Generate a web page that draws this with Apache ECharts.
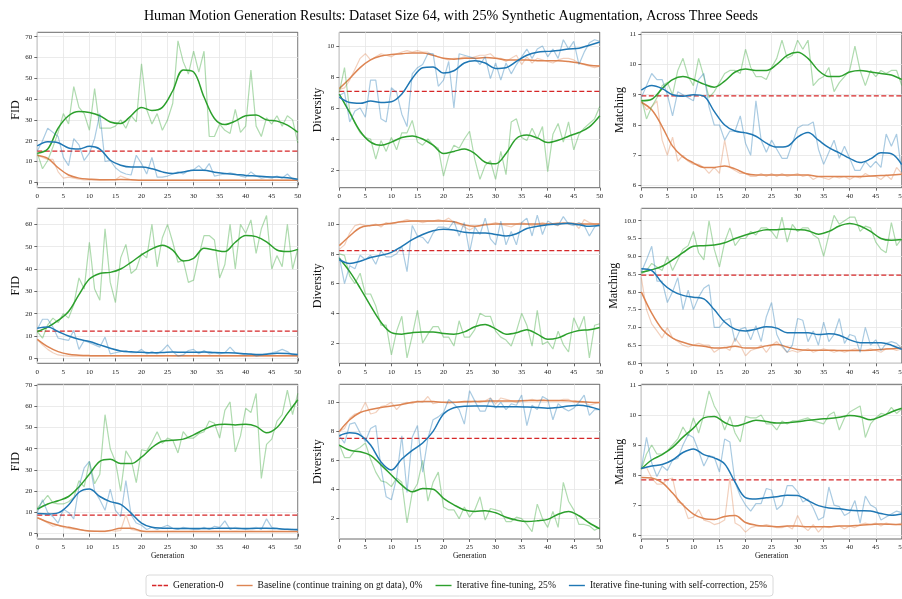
<!DOCTYPE html>
<html>
<head>
<meta charset="utf-8">
<script src="https://cdn.jsdelivr.net/npm/echarts@6/dist/echarts.min.js"></script>
<style>
  html, body { margin: 0; padding: 0; background: #fff; }
  #chart { width: 902px; height: 599px; }
</style>
</head>
<body>
<div id="chart"></div>
<script>
// generations on the x axis (raw points) and the points of the smoothed curves
const gens = [0,1,2,3,4,5,6,7,8,9,10,11,12,13,14,15,16,17,18,19,20,21,22,23,24,25,26,27,28,29,30,31,32,33,34,35,36,37,38,39,40,41,42,43,44,45,46,47,48,49,50];
const smGens = [0,2,4,6,8,10,12,14,16,18,20,22,24,26,28,30,32,34,36,38,40,42,44,46,48,50];
const xTicks = [0,5,10,15,20,25,30,35,40,45,50];

// y tick labels per row / metric
const fidTicks1 = [0,10,20,30,40,50,60,70];
const fidTicks2 = [0,10,20,30,40,50,60];
const fidTicks3 = [0,10,20,30,40,50,60,70];
const divTicks = [2,4,6,8,10];
const matTicks1 = [6,7,8,9,10,11];
const matTicks2 = [6.0,6.5,7.0,7.5,8.0,8.5,9.0,9.5,10.0];
const matTicks3 = [6,7,8,9,10,11];

// Generation-0 reference level, panels in reading order
const gen0 = [15, 7.07, 8.96, 12.2, 8.22, 8.47, 8.75, 7.52, 7.84];

// ---- seed 1 ----
const fidBaseRaw1 = [13,12,11,11,5,2,2.5,2,1.5,1.2, 1.1,1,1,1,1.1,1.2,3,2,1.2,1, 1,1,1,0.9,1,0.9,1,1,0.9,1, 1,0.9,1,1,0.9,1,0.9,1,1,0.9, 1,0.9,1,1,0.9,1,1,0.9,1,0.9,1];
const fidBaseSm1 = [13,11.5,7,3.5,2,1.5,1.2,1.2,1.3,1.2,1,1,1,0.95,0.95,0.95,0.95,0.95,0.95,0.95,0.95,0.95,0.95,0.95,0.95,0.95];
const fidIterRaw1 = [14,6.5,10.5,17,24,33,28,46,36,33, 25,45,26,26,26,27,30,26,32,29, 57,35,28,33,25,30,38,68,58,52, 63,53,63,22,22,28,25,23.5,35,24, 27,54,27,22,31,28,32,27,32,30,19];
const fidIterSm1 = [14,16,26,32,34,33.5,32,29,28.3,32,36,34.5,36,44,54,53,41,30.7,27.8,29.4,32,32.3,30,29.4,27.5,24];
const fidSelfRaw1 = [15,20,26,24,22,12,8,21,18,10.5, 14,21,33,10,10.5,7,5,4,3.5,13, 9,4,12,2.5,2.5,3,4,5,4,5.5, 6,8,5.5,9,3,3.5,4,4.5,4,3, 2.5,5,3,2,2.5,2,3,2,4,1.5,1];
const fidSelfSm1 = [17.5,19.5,19,16.5,16,17.3,16,10.6,8.2,7.3,7.3,6.5,5,4.2,5,5.8,5.8,4.8,4.2,3.8,3.3,3,2.7,2.5,2.2,1.5];

const divBaseRaw1 = [7.2,7.3,7.8,8.5,9.2,9.5,9.1,9.3,9.5,9.4, 9.3,9.5,9.6,9.7,9.6,9.7,9.6,9.6,9.4,9.3, 9.2,9.1,9.2,9.2,9.3,9.2,9.3,9.4,9.4,9.5, 9.2,9.2,9.0,9.2,9.4,8.8,9.3,8.9,9.2,9.1, 9.0,8.9,9.1,9.2,9.2,9.1,8.9,8.8,8.7,8.6,8.7];
const divBaseSm1 = [7.25,7.9,8.6,9.1,9.35,9.45,9.5,9.55,9.55,9.4,9.2,9.15,9.2,9.2,9.25,9.2,9.1,9.1,9.1,9.05,9.05,9.05,9.0,8.9,8.75,8.7];
const divIterRaw1 = [7.0,8.6,5.8,5.0,4.4,4.1,4.0,2.7,3.9,3.2, 4.1,3.3,4.4,4.4,5.2,3.8,3.6,4.0,3.6,3.4, 1.6,2.9,3.6,3.4,4.0,4.5,2.7,1.4,2.3,2.6, 1.4,3.2,1.7,5.1,5.3,4.1,3.9,4.7,4.0,4.8, 1.9,4.3,5.0,3.8,5.1,3.3,4.3,4.7,5.0,5.3,6.1];
const divIterSm1 = [6.9,5.7,4.5,3.8,3.6,3.8,4.1,4.2,4.0,3.6,3.06,3.2,3.35,3.06,2.5,2.4,3.06,4.03,4.25,4.07,3.77,3.92,4.18,4.42,4.78,5.5];
const divSelfRaw1 = [6.8,7.0,5.1,5.8,6.0,5.4,7.8,7.8,5.3,5.1, 7.3,7.0,5.6,4.8,8.2,8.6,8.8,9.5,9.5,7.4, 7.8,9.0,6.0,9.5,9.4,9.3,9.2,8.8,9.3,7.9, 8.9,7.8,8.9,8.2,8.8,9.3,9.8,9.2,9.8,10.0, 9.3,9.8,9.2,10.4,9.8,10.3,8.8,9.6,10.2,10.4,10.3];
const divSelfSm1 = [6.7,6.35,6.3,6.45,6.35,6.4,6.9,7.9,8.6,8.65,8.25,8.4,8.9,9.05,8.9,8.55,8.6,9.0,9.4,9.6,9.65,9.7,9.8,9.85,10.05,10.25];

const matBaseRaw1 = [8.8,8.5,8.6,8.8,7.5,7.0,7.6,6.8,7.0,6.8, 6.7,6.7,6.6,6.4,6.6,6.4,7.5,6.6,6.5,6.4, 6.4,6.3,6.3,6.4,6.3,6.4,6.3,6.4,6.3,6.35, 6.4,6.3,6.35,6.2,6.3,6.25,6.2,6.3,6.25,6.3, 6.2,6.3,6.25,6.4,6.3,6.3,6.2,6.35,6.2,6.6,6.4];
const matBaseSm1 = [8.75,8.5,7.95,7.3,6.95,6.75,6.6,6.6,6.65,6.55,6.4,6.35,6.35,6.35,6.35,6.35,6.35,6.3,6.3,6.3,6.3,6.3,6.32,6.33,6.35,6.37];
const matIterRaw1 = [8.9,8.2,8.6,8.9,9.3,9.4,9.0,9.8,10.2,9.6, 9.3,10.2,9.6,8.9,9.1,9.4,9.7,9.8,9.8,9.7, 10.5,9.9,9.6,9.6,9.5,9.9,10.2,10.8,10.2,10.3, 10.8,10.5,10.8,9.3,9.5,9.6,9.9,9.1,9.4,9.6, 9.8,10.6,9.8,9.3,9.8,9.6,9.8,9.7,9.8,9.8,9.3];
const matIterSm1 = [8.8,8.85,9.2,9.5,9.6,9.5,9.35,9.25,9.45,9.75,9.85,9.8,9.8,10.0,10.3,10.4,10.2,9.8,9.6,9.6,9.75,9.8,9.75,9.7,9.65,9.5];
const matSelfRaw1 = [8.9,9.3,9.7,9.5,9.5,9.0,8.3,9.1,9.0,8.9, 8.8,9.5,9.7,8.6,8.0,8.0,7.5,7.8,7.8,8.3, 7.4,7.0,8.8,7.5,7.1,7.5,7.2,6.9,6.9,7.4, 7.9,8.0,8.0,8.1,7.2,6.7,7.1,7.5,6.9,7.3, 6.9,6.5,6.5,6.8,6.6,6.8,6.6,7.7,7.3,7.7,6.45];
const matSelfSm1 = [9.15,9.3,9.2,9.0,8.95,9.0,8.95,8.45,8.0,7.8,7.74,7.63,7.4,7.27,7.3,7.6,7.75,7.5,7.25,7.08,6.9,6.76,6.88,7.08,7.05,6.69];

// ---- seed 2 ----
const fidBaseRaw2 = [8.5,6,4,2.5,1.5,1.2,1,1,1.1,1, 1,1.1,1,1,1.2,1,1,1.1,1,1, 1,1.1,1,1,1,1.2,1,1,1,1.1, 1,1,1,1.1,1,1,1,1.1,1,1, 1,1,1.1,1,1,1,1.1,1,1,1,1];
const fidBaseSm2 = [8.5,5.2,3,1.8,1.4,1.2,1.1,1.1,1.1,1.1,1.1,1.1,1.1,1.1,1.1,1.1,1.1,1.1,1.1,1.1,1.1,1.1,1.1,1.1,1.1,1.1];
const fidIterRaw2 = [12,9,15,18,16,20,18,24,36,31, 52,31,26,58,34,25,45,51,38,40, 47,45,60,41,54,60,52,43,44,34, 35,46,55,55,53,36,42,60,40,60, 56,62,47,58,64,40,46,41,60,40,49];
const fidIterSm2 = [12,14,17,21,28.5,35.5,38,38.5,40,43,46.3,49,50.7,48.5,43.6,44.8,49.3,48.5,47.8,52,55,54.5,52.2,48.5,47.8,48.8];
const fidSelfRaw2 = [13,17.5,17.5,14,9,8.5,8,12.5,4,8, 7,6,5,9.5,2,2.5,3,3.5,2.5,2.5, 4,2,3,2,3.5,6,3,1,1.5,3.5, 4,2,3.5,2,2.5,2,2.5,5,2.5,2, 1.5,2,1,1.5,2,2.5,3,4,3,1.5,1.5];
const fidSelfSm2 = [13.5,14,12,10,8.5,7.5,6,4.5,3.3,2.9,2.7,2.5,2.6,2.8,2.7,2.7,2.8,2.6,2.5,2.4,2.0,1.7,1.8,2.3,2.2,1.7];

const divBaseRaw2 = [8.3,8.6,9.4,9.9,10.0,9.9,9.9,10.0,9.8,10.1, 10.0,10.1,10.2,10.3,10.2,10.2,10.1,10.2,10.2,10.3, 10.2,10.4,10.1,10.0,9.8,9.6,9.8,9.9,10.0,10.0, 10.1,10.0,9.9,9.8,10.0,10.1,10.0,9.9,10.0,10.1, 10.0,10.0,9.9,10.1,10.0,10.1,9.7,10.3,10.1,10.0,10.0];
const divBaseSm2 = [8.55,9.2,9.75,9.9,9.95,10.05,10.15,10.2,10.2,10.2,10.2,10.15,9.95,9.85,9.95,10.0,10.0,10.0,10.0,10.0,10.0,10.05,10.05,10.0,10.0,10.0];
const divIterRaw2 = [8.0,7.9,6.5,6.0,6.7,5.3,5.3,4.5,3.2,3.2, 1.2,2.8,3.8,1.0,2.5,4.2,2.0,2.6,3.1,3.1, 2.4,2.4,1.8,3.5,2.4,2.4,2.9,4.0,3.8,3.8, 2.8,2.4,2.2,1.8,2.8,4.0,3.2,1.8,4.2,1.9, 2.1,1.6,2.8,1.9,1.4,3.7,2.9,3.8,1.0,3.2,3.3];
const divIterSm2 = [7.7,6.8,5.7,4.5,3.4,2.7,2.6,2.7,2.75,2.75,2.65,2.6,2.75,3.1,3.25,2.95,2.6,2.7,2.9,2.6,2.25,2.35,2.65,2.85,2.9,3.05];
const divSelfRaw2 = [7.8,6.0,7.2,7.0,7.9,7.6,7.9,7.3,8.2,7.8, 7.8,8.0,8.5,6.8,9.9,9.2,9.1,8.7,9.4,9.8, 9.8,9.7,10.2,9.2,10.1,8.1,9.8,9.3,10.4,9.0, 8.6,10.2,8.6,9.5,8.6,10.1,10.4,9.2,10.6,9.3, 10.2,10.0,9.9,10.5,10.0,9.9,10.1,9.9,9.2,9.8,10.0];
const divSelfSm2 = [7.6,7.35,7.5,7.75,7.9,8.1,8.5,8.95,9.3,9.55,9.65,9.6,9.45,9.4,9.4,9.3,9.2,9.35,9.7,9.85,9.95,10.0,10.05,9.95,9.85,9.9];

const matBaseRaw2 = [8.4,7.5,7.1,6.9,6.7,7.0,6.7,6.6,6.5,6.45, 6.5,6.55,6.5,6.5,6.3,6.4,6.45,6.35,6.7,6.5, 6.2,6.35,6.4,6.5,6.3,6.5,6.6,6.45,6.3,6.35, 6.3,6.35,6.4,6.3,6.35,6.4,6.35,6.3,6.35,6.3, 6.35,6.4,6.35,6.35,6.4,6.35,6.3,6.4,6.4,6.35,6.4];
const matBaseSm2 = [8.0,7.4,6.95,6.7,6.58,6.5,6.47,6.42,6.43,6.47,6.42,6.42,6.48,6.52,6.45,6.38,6.36,6.36,6.36,6.35,6.35,6.35,6.36,6.38,6.4,6.42];
const matIterRaw2 = [8.5,8.6,8.8,8.7,8.6,9.0,8.6,8.9,9.2,9.3, 9.7,9.1,8.9,10.0,9.2,8.7,9.4,9.8,9.3,9.5, 9.5,9.7,9.6,9.8,9.8,9.7,9.5,10.1,9.4,9.9, 9.7,9.8,9.8,9.6,9.5,9.0,9.6,10.15,9.9,10.0, 10.1,10.1,9.7,9.85,9.8,9.4,9.2,9.1,9.95,9.3,9.5];
const matIterSm2 = [8.55,8.62,8.72,8.9,9.1,9.28,9.3,9.32,9.38,9.5,9.6,9.68,9.75,9.75,9.77,9.75,9.72,9.62,9.7,9.85,9.92,9.85,9.7,9.5,9.45,9.47];
const matSelfRaw2 = [8.55,8.9,9.28,8.3,8.3,7.7,8.0,8.4,7.5,8.05, 7.5,7.85,8.1,8.2,7.0,7.0,7.2,7.25,6.6,6.95, 7.0,6.65,7.05,6.6,7.3,7.7,6.8,6.5,6.3,6.5, 7.25,7.2,6.6,6.9,6.5,7.15,6.6,6.8,7.25,6.55, 6.8,6.75,6.3,7.0,6.5,6.65,6.35,6.55,6.6,6.55,6.4];
const matSelfSm2 = [8.65,8.6,8.25,8.02,7.9,7.85,7.8,7.5,7.15,6.95,6.9,6.95,7.02,6.98,6.85,6.85,6.85,6.8,6.82,6.78,6.65,6.57,6.57,6.57,6.5,6.38];

// ---- seed 3 ----
const fidBaseRaw3 = [7.5,6.5,5,3.5,4,3,2.5,2,2,1.5, 1.2,1.2,1,1,1.5,1.2,1.5,9,2,1.5, 1,1,1,1.1,1,1,1.1,1,1,1, 1.1,1,1,1,1.1,1,1,1,1.1,1, 1,1.1,1,1,1,1.1,1,1,1,1.1,1];
const fidBaseSm3 = [7.5,5.5,4,3,2,1.3,1.1,1.5,2.6,2.6,1.3,1.0,1.0,1.0,1.0,1.0,1.0,1.0,1.0,1.0,1.0,1.0,1.0,1.0,1.0,1.0];
const fidIterRaw3 = [12,15,18,14.5,14,14,15,17,25,22, 34,23.5,28,56,40,34,20,39,35,24, 39.5,39,43,48,42.5,45,44,38,48,45, 45,47,48,53,52,45,58,62,38.5,46, 59,57,66,26,42,44.5,53,56,67.5,56,66];
const fidIterSm3 = [11.5,14,15.5,17.5,22,28,34,35,33,33,36,40.5,43.5,44,44.5,46.5,49,51,51.5,51.2,51.5,50.5,47.5,50,56.5,63];
const fidSelfRaw3 = [10,16,10,8,5,11.5,10,7,22,31, 34,20,16,11,21,11,8,25,9,5, 4,2,3,2,3,4,2.5,2,3,2.5, 2,2,3,2,3.5,3,6,2,3,2.5, 2,2.5,3,2,7,3,2.5,2,2,2,1.5];
const fidSelfSm3 = [9.5,9.3,9.8,13.5,19.5,21,17.5,15.1,13.8,9.7,5,3,2.6,2.5,2.4,2.4,2.4,2.5,2.6,2.5,2.4,2.5,2.6,2.4,2.1,2.0];

const divBaseRaw3 = [8.0,8.2,8.9,9.2,9.3,10.0,9.2,9.3,9.7,9.8, 10.0,9.5,9.9,10.0,9.9,10.1,10.0,10.4,9.9,10.0, 10.0,9.9,10.0,10.0,10.0,10.0,10.1,10.0,10.1,10.3, 9.9,10.3,10.2,10.1,10.0,10.1,10.1,10.2,10.1,10.2, 10.1,10.1,10.1,10.2,10.2,10.0,10.0,10.0,9.8,9.9,10.0];
const divBaseSm3 = [8.0,8.8,9.3,9.5,9.65,9.75,9.85,10.0,10.05,10.05,10.0,10.0,10.05,10.05,10.08,10.1,10.1,10.1,10.12,10.12,10.12,10.12,10.1,10.05,10.0,9.98];
const divIterRaw3 = [7.1,6.2,6.2,6.7,6.9,7.2,6.1,5.2,4.6,4.5, 4.2,4.8,4.5,1.7,3.8,4.4,6.0,3.2,4.5,5.2, 2.8,2.6,2.6,2.0,2.8,2.1,2.6,3.5,1.9,2.7, 2.6,2.5,1.8,1.8,2.1,2.0,1.6,1.1,3.0,2.0, 1.4,2.5,1.4,4.5,3.2,2.6,1.6,1.6,1.5,1.2,1.4];
const divIterSm3 = [7.05,6.7,6.6,6.35,5.7,5.0,4.3,3.85,4.07,4.02,3.4,2.95,2.6,2.5,2.55,2.4,2.1,1.9,1.8,1.85,1.95,2.3,2.5,2.2,1.7,1.3];
const divSelfRaw3 = [7.7,7.2,8.5,8.6,7.9,7.3,8.2,8.4,5.5,3.5, 3.3,4.8,7.7,3.8,7.6,8.4,5.2,7.5,8.8,9.0, 9.3,10.2,9.9,9.5,8.5,10.8,10.1,9.4,9.4,10.3, 9.6,10.0,9.5,9.9,9.8,10.5,8.4,9.8,9.5,10.4, 10.2,8.8,9.9,9.6,9.4,9.6,10.0,10.5,9.1,9.5,9.5];
const divSelfSm3 = [7.7,7.9,7.75,7.06,5.9,5.35,6.1,6.7,7.2,8.0,9.2,9.63,9.73,9.75,9.75,9.7,9.7,9.7,9.68,9.65,9.6,9.65,9.75,9.8,9.7,9.5];

const matBaseRaw3 = [8.2,8.25,7.9,7.7,7.7,7.85,7.9,7.1,7.05,6.55, 6.6,6.85,6.5,6.45,6.35,6.4,6.5,7.9,6.4,6.3, 6.1,6.25,6.3,6.3,6.35,6.3,6.25,6.25,6.3,6.2, 6.65,6.3,6.15,6.35,6.1,6.3,6.25,6.3,6.3,6.2, 6.3,6.25,6.35,6.4,6.35,6.4,6.3,6.4,6.35,6.35,6.4];
const matBaseSm3 = [7.92,7.9,7.75,7.4,7.0,6.7,6.55,6.52,6.62,6.65,6.42,6.33,6.3,6.28,6.3,6.3,6.28,6.28,6.28,6.3,6.3,6.33,6.35,6.37,6.36,6.35];
const matIterRaw3 = [8.2,8.7,9.0,8.7,8.7,8.8,9.0,9.2,9.6,9.3, 9.9,9.4,10.0,10.8,10.3,10.0,9.5,9.95,9.4,9.1, 9.95,9.9,9.9,10.0,9.7,9.7,9.5,9.8,9.7,9.8, 9.8,9.85,9.9,9.8,9.75,9.7,10.0,10.1,9.5,9.9, 10.1,10.2,10.3,9.25,9.7,9.9,10.05,10.0,10.25,10.05,10.2];
const matIterSm3 = [8.2,8.5,8.68,8.92,9.26,9.56,9.9,9.95,9.75,9.63,9.72,9.82,9.78,9.73,9.74,9.77,9.82,9.86,9.88,9.92,9.98,9.94,9.84,9.95,10.1,10.22];
const matSelfRaw3 = [8.2,9.25,8.4,7.95,8.3,8.15,8.5,8.55,9.0,9.35, 9.25,8.8,8.3,8.65,8.6,8.1,9.2,9.1,7.75,7.3, 7.0,6.8,7.05,7.05,7.55,7.5,6.85,7.0,7.65,7.65, 7.45,7.1,7.2,6.9,6.5,6.6,7.6,7.0,6.95,6.65, 6.75,7.15,6.4,7.3,7.0,6.9,6.5,6.6,6.7,6.8,6.75];
const matSelfSm3 = [8.22,8.3,8.35,8.5,8.75,8.87,8.68,8.57,8.37,7.76,7.25,7.2,7.24,7.28,7.33,7.32,7.15,6.98,6.9,6.88,6.83,6.81,6.8,6.72,6.66,6.7];

const names = {
  gen0: 'Generation-0',
  base: 'Baseline (continue training on gt data), 0%',
  iter: 'Iterative fine-tuning, 25%',
  self: 'Iterative fine-tuning with self-correction, 25%'
};
const colors = { gen0: '#d62728', base: '#dd8452', iter: '#2ca02c', self: '#1f77b4' };
const serif = "'Liberation Serif', 'DejaVu Serif', serif";

// layout of the 3x3 panels
const lefts = [37.3, 339.3, 641.3];
const tops = [32.3, 208.3, 384.3];
const heights = [155.4, 155, 154.7];
const panelW = 260.5;

const panels = [
  { yName: 'FID', min: -2.6, max: 72.1, ticks: fidTicks1, base: [fidBaseRaw1, fidBaseSm1], iter: [fidIterRaw1, fidIterSm1], self: [fidSelfRaw1, fidSelfSm1] },
  { yName: 'Diversity', min: 0.86, max: 10.88, ticks: divTicks, base: [divBaseRaw1, divBaseSm1], iter: [divIterRaw1, divIterSm1], self: [divSelfRaw1, divSelfSm1] },
  { yName: 'Matching', min: 5.93, max: 11.06, ticks: matTicks1, base: [matBaseRaw1, matBaseSm1], iter: [matIterRaw1, matIterSm1], self: [matSelfRaw1, matSelfSm1] },
  { yName: 'FID', min: -2.24, max: 67.2, ticks: fidTicks2, base: [fidBaseRaw2, fidBaseSm2], iter: [fidIterRaw2, fidIterSm2], self: [fidSelfRaw2, fidSelfSm2] },
  { yName: 'Diversity', min: 0.64, max: 11.06, ticks: divTicks, base: [divBaseRaw2, divBaseSm2], iter: [divIterRaw2, divIterSm2], self: [divSelfRaw2, divSelfSm2] },
  { yName: 'Matching', min: 5.99, max: 10.35, ticks: matTicks2, fixed: 1, base: [matBaseRaw2, matBaseSm2], iter: [matIterRaw2, matIterSm2], self: [matSelfRaw2, matSelfSm2] },
  { yName: 'FID', min: -2.5, max: 70.3, ticks: fidTicks3, base: [fidBaseRaw3, fidBaseSm3], iter: [fidIterRaw3, fidIterSm3], self: [fidSelfRaw3, fidSelfSm3] },
  { yName: 'Diversity', min: 0.6, max: 11.24, ticks: divTicks, base: [divBaseRaw3, divBaseSm3], iter: [divIterRaw3, divIterSm3], self: [divSelfRaw3, divSelfSm3] },
  { yName: 'Matching', min: 5.87, max: 11.02, ticks: matTicks3, base: [matBaseRaw3, matBaseSm3], iter: [matIterRaw3, matIterSm3], self: [matSelfRaw3, matSelfSm3] }
];

const grids = [], xAxes = [], yAxes = [], series = [];

panels.forEach((p, i) => {
  const row = Math.floor(i / 3), col = i % 3;
  grids.push({
    left: lefts[col], top: tops[row], width: panelW, height: heights[row],
    show: true, borderColor: '#444', borderWidth: 0.8, backgroundColor: 'transparent',
    containLabel: false, outerBoundsMode: 'none'
  });
  xAxes.push({
    type: 'value', gridIndex: i, min: gens[0], max: gens[gens.length - 1], interval: 5,
    name: row === 2 ? 'Generation' : '', nameLocation: 'middle', nameGap: 12,
    nameTextStyle: { fontFamily: serif, fontSize: 7.5, color: '#111' },
    axisLine: { show: false },
    axisTick: { show: true, length: 3, lineStyle: { color: '#444', width: 0.8 } },
    axisLabel: { fontFamily: serif, fontSize: 7, color: '#222', margin: 5, customValues: xTicks },
    splitLine: { show: true, lineStyle: { color: '#e6e6e6', width: 0.8 } }
  });
  yAxes.push({
    type: 'value', gridIndex: i, min: p.min, max: p.max,
    name: p.yName, nameLocation: 'middle', nameGap: 15, nameRotate: 90,
    nameTextStyle: { fontFamily: serif, fontSize: 12, color: '#111' },
    axisLine: { show: false },
    axisTick: { show: true, length: 3, lineStyle: { color: '#444', width: 0.8 }, customValues: p.ticks },
    axisLabel: {
      fontFamily: serif, fontSize: 7, color: '#222', margin: 5, customValues: p.ticks,
      formatter: v => p.fixed ? Number(v).toFixed(p.fixed) : String(Math.round(v))
    },
    splitLine: { show: true, lineStyle: { color: '#e6e6e6', width: 0.8 } }
  });

  series.push({
    name: names.gen0, type: 'line', xAxisIndex: i, yAxisIndex: i,
    data: [[gens[0], gen0[i]], [gens[gens.length - 1], gen0[i]]],
    symbol: 'none', silent: true, z: 2,
    lineStyle: { color: colors.gen0, width: 1.3, type: [5, 2.5] }, itemStyle: { color: colors.gen0 }
  });
  ['base', 'iter', 'self'].forEach((k, j) => {
    const [raw, sm] = p[k];
    series.push({
      name: names[k] + ' (raw)', type: 'line', xAxisIndex: i, yAxisIndex: i,
      data: gens.map((g, n) => [g, raw[n]]),
      symbol: 'none', silent: true, z: 3 + j * 2,
      lineStyle: { color: colors[k], width: 1.2, opacity: 0.38 }, itemStyle: { color: colors[k] }
    });
    series.push({
      name: names[k], type: 'line', xAxisIndex: i, yAxisIndex: i,
      data: smGens.map((g, n) => [g, sm[n]]),
      symbol: 'none', silent: true, smooth: 0.35, z: 4 + j * 2,
      lineStyle: { color: colors[k], width: 1.5 }, itemStyle: { color: colors[k] }
    });
  });
});

// legend handles: a solid bar, and three dashes for the reference level
const solidIcon = 'path://M0,0h16v1.4h-16z';
const dashIcon = 'path://M0,0h4.4v1.4h-4.4z M5.8,0h4.4v1.4h-4.4z M11.6,0h4.4v1.4h-4.4z';

const chart = echarts.init(document.getElementById('chart'), null, { renderer: 'canvas' });
chart.setOption({
  animation: false,
  backgroundColor: '#fff',
  title: {
    text: 'Human Motion Generation Results: Dataset Size 64, with 25% Synthetic Augmentation, Across Three Seeds',
    left: 'center', top: 4,
    textStyle: { fontFamily: serif, fontSize: 14.1, fontWeight: 'normal', color: '#000' }
  },
  legend: {
    data: [
      { name: names.gen0, icon: dashIcon },
      { name: names.base, icon: solidIcon },
      { name: names.iter, icon: solidIcon },
      { name: names.self, icon: solidIcon }
    ],
    left: 146, top: 575, orient: 'horizontal',
    itemWidth: 16, itemHeight: 1.4, itemGap: 13,
    padding: [5, 6], borderColor: '#d0d0d0', borderWidth: 0.8, borderRadius: 3,
    selectedMode: false,
    textStyle: { fontFamily: serif, fontSize: 9.6, color: '#111', lineHeight: 11 }
  },
  grid: grids,
  xAxis: xAxes,
  yAxis: yAxes,
  series: series
});
</script>
</body>
</html>
